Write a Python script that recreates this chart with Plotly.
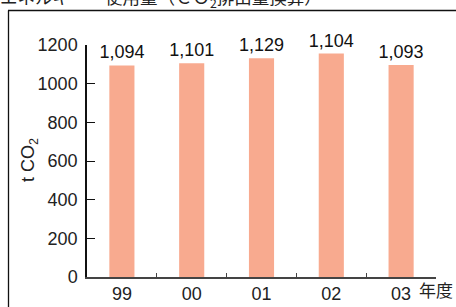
import plotly.graph_objects as go

years = ["99", "00", "01", "02", "03"]
bar_values = [1094, 1106, 1131, 1156, 1096]
value_labels = ["1,094", "1,101", "1,129", "1,104", "1,093"]
y_ticks = [0, 200, 400, 600, 800, 1000, 1200]

W, H = 456, 307
L, R, T, B = 87, 20, 45, 30
pw, ph = W - L - R, H - T - B

def px(x):
    return (x - L) / pw

def py(y):
    return 1 - (y - T) / ph

font_latin = "Liberation Sans, Arial, sans-serif"
font_cjk = "Noto Sans CJK JP, sans-serif"

fig = go.Figure(go.Bar(
    x=years, y=bar_values, text=value_labels,
    textposition="outside", cliponaxis=False, constraintext="none",
    textfont=dict(size=18, color="#111", family=font_latin),
    marker=dict(color="#F8AA8F", line=dict(width=0)),
    hoverinfo="skip",
))

fig.update_layout(
    width=W, height=H,
    margin=dict(l=L, r=R, t=T, b=B, autoexpand=False),
    paper_bgcolor="white", plot_bgcolor="white",
    bargap=0.64, showlegend=False,
    font=dict(family=font_latin, size=18, color="#222"),
    xaxis=dict(
        type="category", showline=True, linecolor="#444", linewidth=1.5,
        ticks="inside", ticklen=4, tickcolor="#444", tickson="boundaries",
        showgrid=False, zeroline=False,
        tickfont=dict(size=18, color="#222"),
    ),
    yaxis=dict(
        range=[0, 1200], tickvals=y_ticks, showline=True, linecolor="#111",
        linewidth=1.5, ticks="inside", ticklen=8, tickcolor="#111",
        showgrid=False, zeroline=False, ticklabelstandoff=4,
        tickfont=dict(size=18, color="#222"),
    ),
    shapes=[
        dict(type="line", xref="paper", yref="paper",
             x0=px(8), x1=px(460), y0=py(10.5), y1=py(10.5),
             line=dict(color="#111", width=1.3)),
        dict(type="line", xref="paper", yref="paper",
             x0=px(8.5), x1=px(8.5), y0=py(10.5), y1=py(310),
             line=dict(color="#111", width=1.3)),
    ],
    annotations=[
        dict(text="エネルギー　使用量（ＣＯ<sub>2</sub>排出量換算）", xref="paper", yref="paper",
             x=px(-2), y=py(-2), xanchor="left", yanchor="middle", showarrow=False,
             font=dict(size=17.5, color="#222", family=font_cjk)),
        dict(text="t CO<sub>2</sub>", xref="paper", yref="paper",
             x=px(29), y=py(160), xanchor="center", yanchor="middle",
             textangle=-90, showarrow=False,
             font=dict(size=18, color="#222", family=font_latin)),
        dict(text="年度", xref="paper", yref="paper",
             x=px(417), y=py(289), xanchor="left", yanchor="middle",
             showarrow=False,
             font=dict(size=17, color="#222", family=font_cjk)),
    ],
)

fig.write_html("out.html", config={"displayModeBar": False},
               post_script="document.body.style.margin='0';document.body.style.overflow='hidden';")
